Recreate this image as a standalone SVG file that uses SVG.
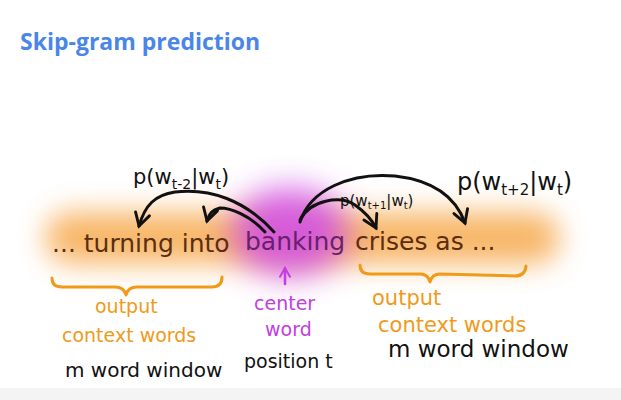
<svg xmlns="http://www.w3.org/2000/svg" width="621" height="400" viewBox="0 0 621 400">
<defs>
<style>
.title{font-family:"Open Sans","Liberation Sans",sans-serif;font-weight:bold;font-size:23px;fill:#4a86e8}
.hw{font-family:"DejaVu Sans","Liberation Sans",sans-serif}
.word{font-size:25px;fill:#5a2e12}
.bank{font-size:25px;fill:#6a1e6e}
.orange{font-size:19px;fill:#f09a1a}
.purple{font-size:19px;fill:#c23ee0}
.black{font-size:19px;fill:#111}
.arc{fill:none;stroke:#111;stroke-width:3;stroke-linecap:round}
.brace{fill:none;stroke:#f09a1a;stroke-width:3;stroke-linecap:round;stroke-linejoin:round}
</style>
<filter id="blurO" x="-30%" y="-100%" width="160%" height="300%"><feGaussianBlur stdDeviation="14"/></filter>
<filter id="blurP" x="-60%" y="-60%" width="220%" height="220%"><feGaussianBlur stdDeviation="16"/></filter>
<marker id="ah" viewBox="0 0 10 10" refX="8" refY="5" markerWidth="6" markerHeight="6" orient="auto" markerUnits="strokeWidth">
<path d="M1,1 L8,5 L1,9" fill="none" stroke="#111" stroke-width="1.6" stroke-linecap="round"/>
</marker>
<marker id="ahp" viewBox="0 0 10 10" refX="8" refY="5" markerWidth="5" markerHeight="5" orient="auto" markerUnits="strokeWidth">
<path d="M1,1 L8,5 L1,9" fill="none" stroke="#c23ee0" stroke-width="1.6" stroke-linecap="round"/>
</marker>
</defs>
<rect width="621" height="400" fill="#fff"/>
<rect x="0" y="388" width="621" height="12" fill="#f4f4f4"/>
<g id="title"><text class="title" x="20" y="50">Skip-gram prediction</text></g>

<g id="glows">
<rect x="45" y="212" width="515" height="52" rx="26" fill="#f6a443" opacity="0.8" filter="url(#blurO)"/>
<ellipse cx="290" cy="232" rx="58" ry="44" fill="#d04ce8" opacity="0.85" filter="url(#blurP)"/>
</g>

<g id="connectors">
<path class="arc" d="M274,232 C245,200 210,188 175,192 C155,195 145,205 139,226" marker-end="url(#ah)"/>
<path class="arc" d="M265,232 C250,215 230,208 220,208 C212,210 209,214 207,221" marker-end="url(#ah)"/>
<path class="arc" d="M300,222 C310,190 350,172 395,176 C430,180 455,195 465,223" marker-end="url(#ah)"/>
<path class="arc" d="M300,220 C310,200 340,195 355,205 C365,212 372,220 376,228" marker-end="url(#ah)"/>
<path d="M285,284 L285,268" fill="none" stroke="#c23ee0" stroke-width="2.5" stroke-linecap="round" marker-end="url(#ahp)"/>
</g>

<g id="n-left"><text class="hw word" x="52" y="252">... turning into</text></g>
<g id="n-center"><text class="hw bank" x="245" y="250">banking</text></g>
<g id="n-right"><text class="hw word" x="355" y="250">crises as ...</text></g>

<g id="p-left"><text class="hw" style="font-size:21px;fill:#111" x="133" y="184">p(w<tspan style="font-size:14px" dy="5">t-2</tspan><tspan dy="-5">|w</tspan><tspan style="font-size:14px" dy="5">t</tspan><tspan dy="-5">)</tspan></text></g>
<g id="p-inner"><text class="hw" style="font-size:15px;fill:#111" x="340" y="206">p(w<tspan style="font-size:10px" dy="3">t+1</tspan><tspan dy="-3">|w</tspan><tspan style="font-size:10px" dy="3">t</tspan><tspan dy="-3">)</tspan></text></g>
<g id="p-right"><text class="hw" style="font-size:24px;fill:#111" x="457" y="190">p(w<tspan style="font-size:15px" dy="5">t+2</tspan><tspan dy="-5">|w</tspan><tspan style="font-size:15px" dy="5">t</tspan><tspan dy="-5">)</tspan></text></g>

<g id="brace-left"><path class="brace" d="M52,278 Q52,287 62,287 L115,287 Q124,287 126,295 Q128,287 137,287 L212,287 Q222,287 222,277"/></g>
<g id="brace-right"><path class="brace" d="M360,265 Q360,274 370,274 L420,274 Q428,274 430,282 Q432,274 440,274 L515,276 Q525,276 526,266"/></g>

<g id="label-left">
<text class="hw orange" x="95" y="313">output</text>
<text class="hw orange" x="62" y="342">context words</text>
<text class="hw black" x="65" y="377" style="font-size:20px">m word window</text>
</g>
<g id="label-center">
<text class="hw purple" x="254" y="310">center</text>
<text class="hw purple" x="265" y="336">word</text>
<text class="hw black" x="244" y="368">position t</text>
</g>
<g id="label-right">
<text class="hw orange" x="372" y="305" style="font-size:21px">output</text>
<text class="hw orange" x="378" y="332" style="font-size:21px">context words</text>
<text class="hw black" x="388" y="357" style="font-size:23px">m word window</text>
</g>
</svg>
